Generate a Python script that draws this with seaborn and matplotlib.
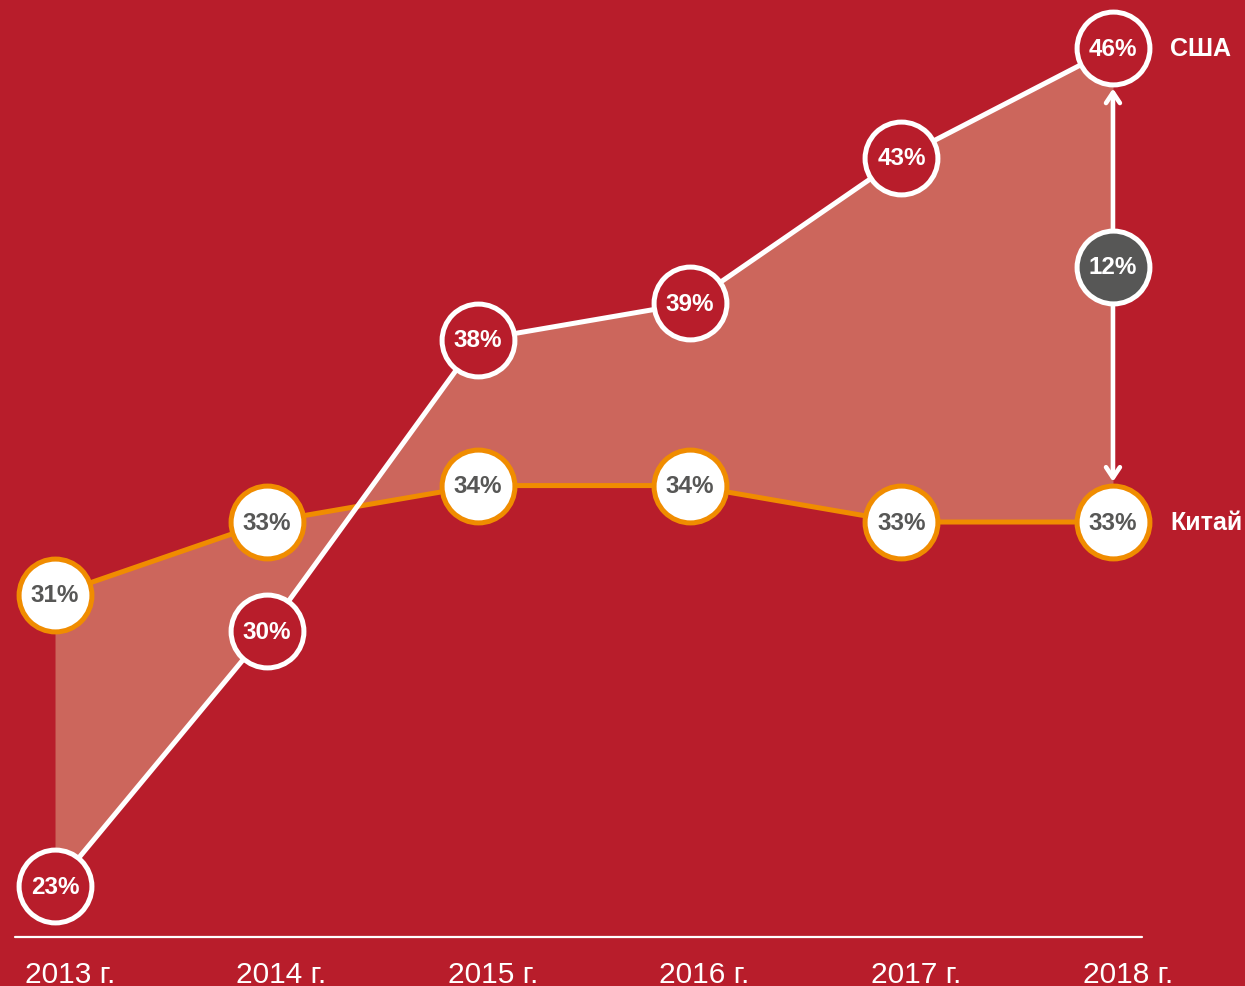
import pandas as pd
import matplotlib.pyplot as plt
import seaborn as sns

years = ["2013 г.", "2014 г.", "2015 г.", "2016 г.", "2017 г.", "2018 г."]
usa = [23, 30, 38, 39, 43, 46]
china = [31, 33, 34, 34, 33, 33]
gap_label = "12%"
gap_pos = 40.0

BG = "#B81D2B"
FILL = "#CC665C"
ORANGE = "#F08C00"
GRAY = "#575756"

sns.set_style("white")
plt.rcParams['font.family'] = ['Liberation Sans', 'DejaVu Sans']

idx = list(range(len(years)))
df = pd.DataFrame({"idx": idx * 2, "value": usa + china,
                   "country": ["США"] * len(idx) + ["Китай"] * len(idx)})

fig = plt.figure(figsize=(12.45, 9.87), dpi=100, facecolor=BG)
ax = fig.add_axes([0, 0, 1, 1])
ax.set_facecolor(BG)

# shaded area between the two series
ax.fill_between(idx, usa, china, color=FILL, lw=0, interpolate=True, zorder=1)

sns.lineplot(data=df[df.country == "Китай"], x="idx", y="value", color=ORANGE,
             lw=3.6, ax=ax, zorder=2)
sns.lineplot(data=df[df.country == "США"], x="idx", y="value", color="white",
             lw=3.6, ax=ax, zorder=3)

# double arrow showing the gap in 2018
ax.annotate("", xy=(idx[-1], usa[-1]), xytext=(idx[-1], china[-1]),
            arrowprops=dict(arrowstyle="<->,head_length=0.75,head_width=0.5",
                            color="white", lw=3.3, shrinkA=29, shrinkB=29,
                            capstyle="round", joinstyle="round"),
            zorder=4)

sns.scatterplot(x=idx, y=china, s=2750, color="white", edgecolor=ORANGE,
                linewidth=3.6, ax=ax, zorder=5)
sns.scatterplot(x=idx, y=usa, s=2750, color=BG, edgecolor="white",
                linewidth=3.6, ax=ax, zorder=5)
ax.scatter([idx[-1]], [gap_pos], s=2750, color=GRAY, edgecolor="white",
           linewidth=3.6, zorder=5)

for i in idx:
    ax.text(i, usa[i], f"{usa[i]}%", color="white", fontsize=17.5,
            fontweight="bold", ha="center", va="center", zorder=6)
    ax.text(i, china[i], f"{china[i]}%", color=GRAY, fontsize=17.5,
            fontweight="bold", ha="center", va="center", zorder=6)
    ax.text(i + 0.07, 0.004, years[i], color="white", fontsize=21.5,
            ha="center", va="baseline", transform=ax.get_xaxis_transform())
ax.text(idx[-1], gap_pos, gap_label, color="white", fontsize=17.5,
        fontweight="bold", ha="center", va="center", zorder=6)

ax.text(idx[-1] + 0.27, usa[-1], "США", color="white", fontsize=18,
        fontweight="bold", ha="left", va="center")
ax.text(idx[-1] + 0.27, china[-1], "Китай", color="white", fontsize=18,
        fontweight="bold", ha="left", va="center")

# bottom baseline
ax.plot([0.012, 0.917], [0.0496, 0.0496], color="white", lw=1.6,
        transform=ax.transAxes, clip_on=False)

ax.set_xlim(-0.26, 5.624)
ax.set_ylim(20.27, 47.35)
ax.set_axis_off()
if ax.get_legend():
    ax.get_legend().remove()

fig.savefig("out.png", dpi=100, facecolor=BG)
